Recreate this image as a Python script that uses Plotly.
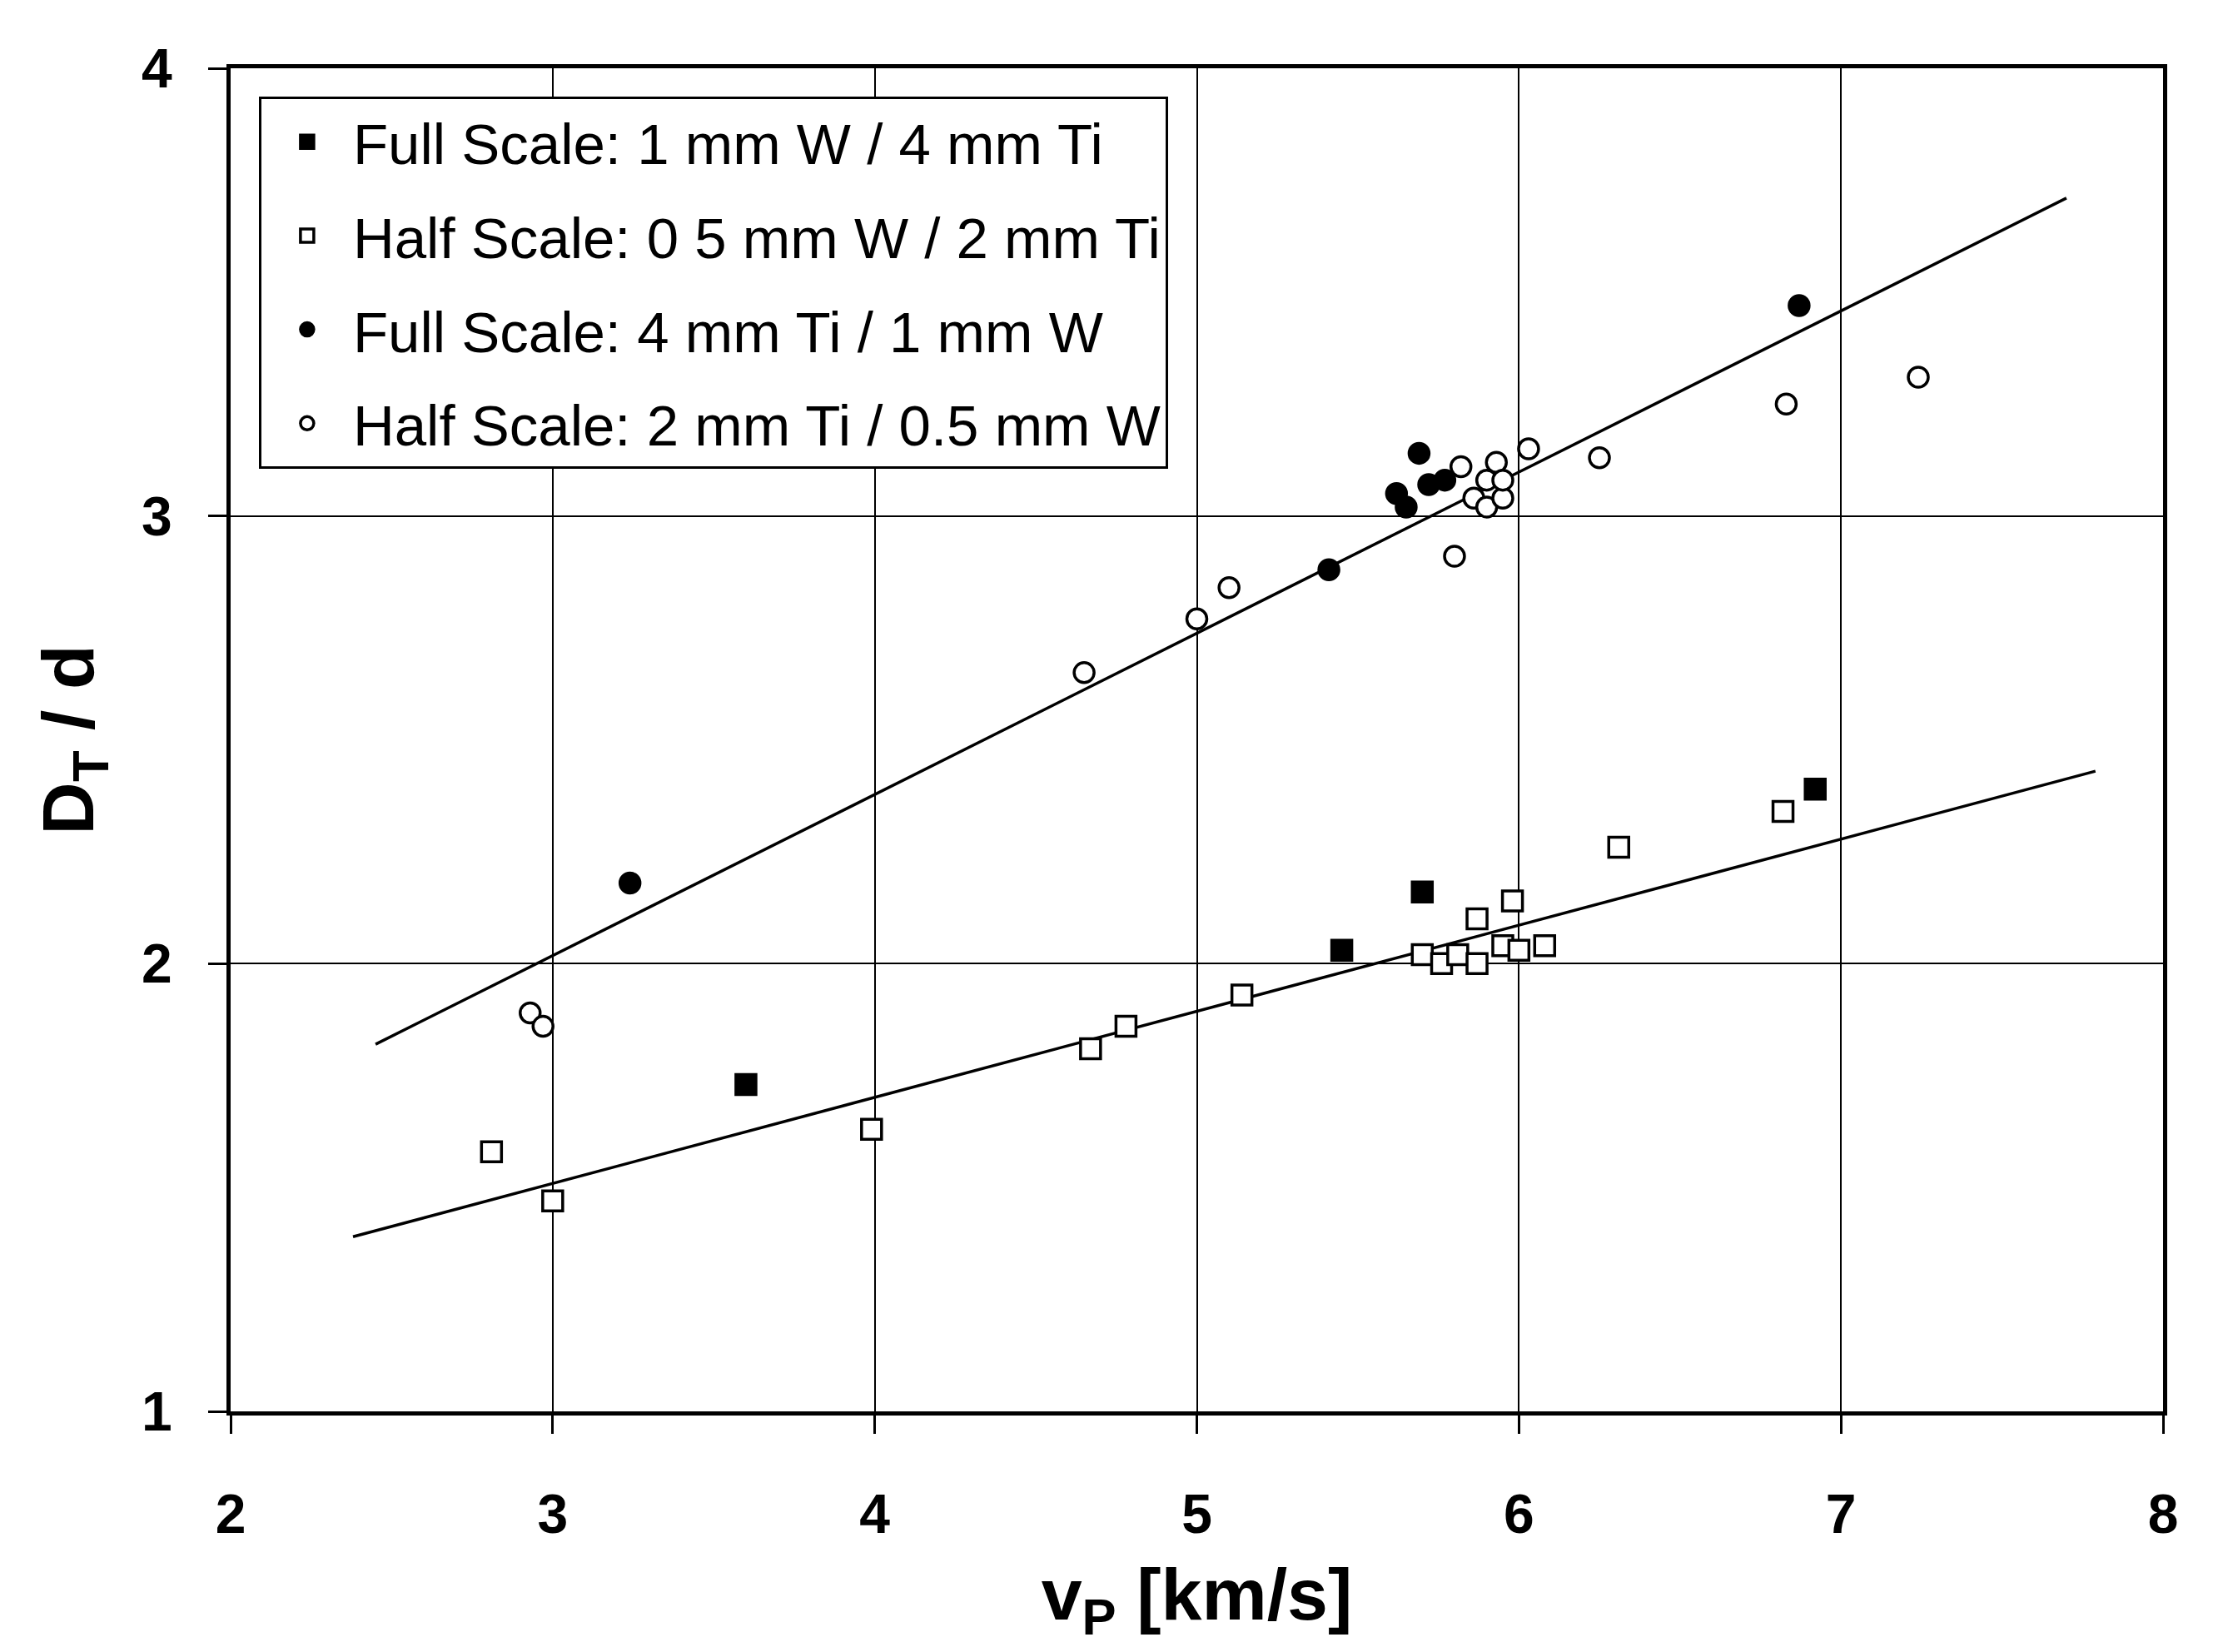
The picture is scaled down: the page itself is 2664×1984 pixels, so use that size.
import plotly.graph_objects as go

# ---- data ----
fs_wti_x = [3.60, 5.45, 5.70, 6.92]
fs_wti_y = [1.73, 2.03, 2.16, 2.39]

hs_wti_x = [2.81, 3.00, 3.99, 4.67, 4.78, 5.14, 5.70, 5.76, 5.81, 5.87, 5.87, 5.95, 5.98, 6.00, 6.08, 6.31, 6.82]
hs_wti_y = [1.58, 1.47, 1.63, 1.81, 1.86, 1.93, 2.02, 2.00, 2.02, 2.00, 2.10, 2.04, 2.14, 2.03, 2.04, 2.26, 2.34]

fs_tiw_x = [3.24, 5.41, 5.62, 5.65, 5.69, 5.72, 5.77, 6.87]
fs_tiw_y = [2.18, 2.88, 3.05, 3.02, 3.14, 3.07, 3.08, 3.47]

hs_tiw_x = [2.93, 2.97, 4.65, 5.00, 5.10, 5.80, 5.82, 5.86, 5.90, 5.93, 5.90, 5.95, 5.95, 6.03, 6.25, 6.83, 7.24]
hs_tiw_y = [1.89, 1.86, 2.65, 2.77, 2.84, 2.91, 3.11, 3.04, 3.08, 3.12, 3.02, 3.04, 3.08, 3.15, 3.13, 3.25, 3.31]

fit_tiw_x = [2.45, 7.70]
fit_tiw_y = [1.82, 3.71]
fit_wti_x = [2.38, 7.79]
fit_wti_y = [1.39, 2.43]

x_ticks = [2, 3, 4, 5, 6, 7, 8]
y_ticks = [1, 2, 3, 4]

names = [
    "Full Scale: 1 mm W / 4 mm Ti",
    "Half Scale: 0 5 mm W / 2 mm Ti",
    "Full Scale: 4 mm Ti / 1 mm W",
    "Half Scale: 2 mm Ti / 0.5 mm W",
]

fig = go.Figure()

fig.add_trace(go.Scatter(x=fit_tiw_x, y=fit_tiw_y, mode="lines",
                         line=dict(color="black", width=3.5), showlegend=False))
fig.add_trace(go.Scatter(x=fit_wti_x, y=fit_wti_y, mode="lines",
                         line=dict(color="black", width=3.5), showlegend=False))

MS = 24
series = [
    (fs_wti_x, fs_wti_y, "square", "black"),
    (hs_wti_x, hs_wti_y, "square", "white"),
    (fs_tiw_x, fs_tiw_y, "circle", "black"),
    (hs_tiw_x, hs_tiw_y, "circle", "white"),
]
for i, (xs, ys, sym, fill) in enumerate(series):
    fig.add_trace(go.Scatter(
        x=xs, y=ys, mode="markers", name=names[i], legendgroup=f"g{i}",
        marker=dict(symbol=sym, size=MS, color=fill, line=dict(color="black", width=3.5)),
    ))

FONT = "Liberation Sans, Arial"
axis_common = dict(
    showline=True, linecolor="black", linewidth=5, mirror=True,
    showgrid=True, gridcolor="black", gridwidth=2,
    zeroline=False, ticks="outside", ticklen=22, tickwidth=3, tickcolor="black",
    tickfont=dict(family=FONT, size=66, color="black", weight="bold"),
)

fig.update_xaxes(range=[2, 8], tickvals=x_ticks, ticklabelstandoff=40,
                 title=dict(text="v<sub>P</sub> [km/s]", standoff=47,
                            font=dict(family=FONT, size=88, color="black", weight="bold")),
                 **axis_common)
fig.update_yaxes(range=[1, 4], tickvals=y_ticks, ticklabelstandoff=30,
                 title=dict(text="D<sub>T</sub> / d", standoff=30,
                            font=dict(family=FONT, size=88, color="black", weight="bold")),
                 **axis_common)

fig.update_layout(
    width=2648, height=1968,
    margin=dict(l=269, r=58, t=74, b=277),
    paper_bgcolor="white", plot_bgcolor="white",
    legend=dict(x=0.0146, y=0.979, xanchor="left", yanchor="top",
                bgcolor="white", bordercolor="black", borderwidth=3,
                font=dict(family=FONT, size=69, color="black"),
                tracegroupgap=20, itemwidth=100),
)

fig.write_html("out.html")
